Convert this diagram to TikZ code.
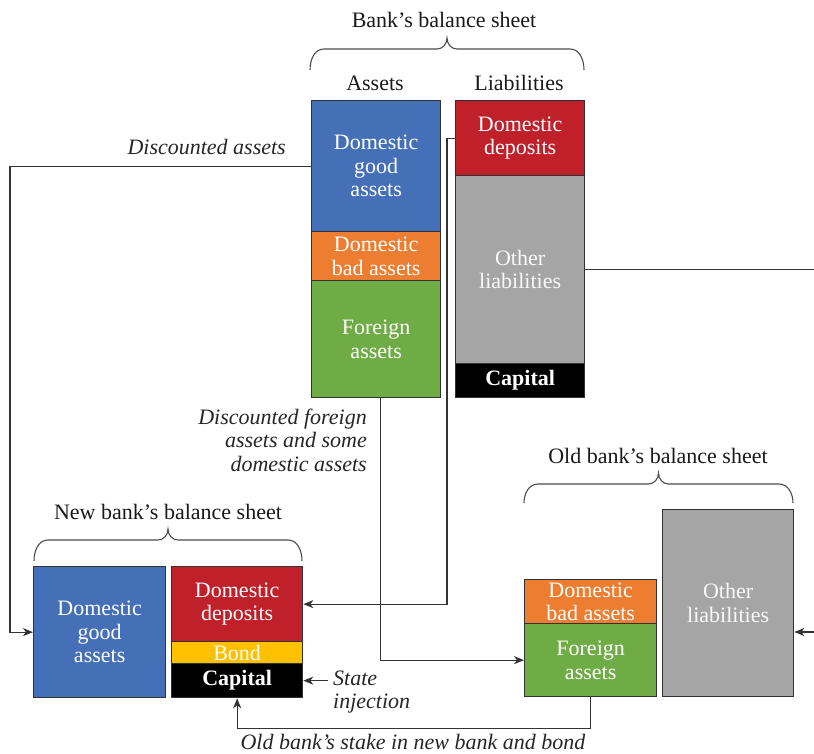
\documentclass[tikz,border=0pt]{standalone}
\usepackage{fontspec}
\setmainfont{Liberation Serif}
\usetikzlibrary{arrows.meta,calc}
\definecolor{cblue}{HTML}{4570B8}
\definecolor{corange}{HTML}{ED7D31}
\definecolor{cgreen}{HTML}{6FAC46}
\definecolor{cred}{HTML}{C0202A}
\definecolor{cgray}{HTML}{A5A5A5}
\definecolor{cyellow}{HTML}{FFC000}
\definecolor{cline}{HTML}{333333}
\newcommand{\myfs}{\fontsize{22}{23.5}\selectfont}
\newcommand{\mybrace}[4]{%
  \pgfmathsetmacro{\bxa}{#1+14}%
  \pgfmathsetmacro{\bxb}{(#1+#2)/2-10}%
  \pgfmathsetmacro{\bxc}{(#1+#2)/2}%
  \pgfmathsetmacro{\bxd}{(#1+#2)/2+10}%
  \pgfmathsetmacro{\bxe}{#2-14}%
  \pgfmathsetmacro{\byt}{#4+11}%
  \draw[bracestyle] (#1,#3) to[out=90,in=180] (\bxa,#4) -- (\bxb,#4)
    to[out=0,in=-90] (\bxc,\byt) to[out=-90,in=180] (\bxd,#4)
    -- (\bxe,#4) to[out=0,in=90] (#2,#3);}
\begin{document}
\begin{tikzpicture}[x=1pt,y=1pt,
  seg/.style={draw=cline, line width=1.3pt, inner sep=0pt, align=center, text=white,
    anchor=north west, font=\myfs},
  lbl/.style={inner sep=0pt, align=center, text=black!90, font=\myfs},
  ilbl/.style={inner sep=0pt, text=black!85, font=\myfs\itshape},
  arr/.style={draw=cline, line width=1.1pt, -{Stealth[length=10pt,width=8pt,inset=3pt]}},
  conn/.style={draw=cline, line width=1.1pt},
  bracestyle/.style={draw=black!70, line width=1.1pt}]
\useasboundingbox (0,0) rectangle (814,-754);

% ---------- Bank's balance sheet ----------
\node[lbl] (t1) at (444,-20) {Bank’s balance sheet};
\mybrace{310}{584}{-70}{-49}
\node[lbl] (assets) at (375,-83) {Assets};
\node[lbl] (liab) at (519,-83) {Liabilities};

\node[seg, fill=cblue, minimum width=129pt, minimum height=131pt] (dga) at (311,-100) {Domestic\\good\\assets};
\node[seg, fill=corange, minimum width=129pt, minimum height=49pt] (dba) at (311,-231) {Domestic\\bad assets};
\node[seg, fill=cgreen, minimum width=129pt, minimum height=117pt] (fa) at (311,-280) {Foreign\\assets};

\node[seg, fill=cred, minimum width=129pt, minimum height=75pt] (dd) at (455,-100) {Domestic\\deposits};
\node[seg, fill=cgray, minimum width=129pt, minimum height=188pt, text=white!95!gray] (ol) at (455,-175) {Other\\liabilities};
\node[seg, fill=black, minimum width=129pt, minimum height=34pt, font=\myfs\bfseries] (cap) at (455,-363) {Capital};

% ---------- New bank ----------
\node[lbl] (t2) at (168,-512) {New bank’s balance sheet};
\mybrace{34}{302}{-561}{-540}
\node[seg, fill=cblue, minimum width=132pt, minimum height=131pt] (ndga) at (33,-566) {Domestic\\good\\assets};
\node[seg, fill=cred, minimum width=131pt, minimum height=75pt] (ndd) at (171,-566) {Domestic\\deposits};
\node[seg, fill=cyellow, minimum width=131pt, minimum height=22pt] (nbond) at (171,-641) {Bond};
\node[seg, fill=black, minimum width=131pt, minimum height=34pt, font=\myfs\bfseries] (ncap) at (171,-663) {Capital};

% ---------- Old bank ----------
\node[lbl] (t3) at (658,-456) {Old bank’s balance sheet};
\mybrace{524}{793}{-503}{-484}
\node[seg, fill=corange, minimum width=132pt, minimum height=44pt] (odba) at (524,-579) {Domestic\\bad assets};
\node[seg, fill=cgreen, minimum width=132pt, minimum height=73pt] (ofa) at (524,-623) {Foreign\\assets};
\node[seg, fill=cgray, minimum width=131pt, minimum height=187pt, text=white!95!gray] (ool) at (662,-509) {Other\\liabilities};

% ---------- labels ----------
\node[ilbl, anchor=east] (l1) at (286,-147) {Discounted assets};
\node[ilbl, anchor=east, align=right] (l2) at (367,-440) {Discounted foreign\\assets and some\\domestic assets};
\node[ilbl, anchor=west, align=left] (l3) at (333,-692) {State\\injection};
\node[ilbl] (l4) at (413,-742) {Old bank’s stake in new bank and bond};

% ---------- connectors ----------
\coordinate (e1) at (814,-269);
\coordinate (e2) at (814,-632);
\draw[arr] (dga.west) -- ++(-301,0) |- (ndga.west);
\draw[arr] (dd.west) -- ++(-8,0) |- (ndd.east);
\draw[arr] ([xshift=4pt]fa.south) |- (ofa.west);
\draw[conn] (ol.east) -- (ol.east -| e1);
\draw[arr] (e2) -- (e2 -| ool.east);
\draw[arr] (ofa.south) -- ++(0,-31) -| (ncap.south);
\draw[arr] ([xshift=25pt]ncap.east) -- (ncap.east);
\end{tikzpicture}
\end{document}
